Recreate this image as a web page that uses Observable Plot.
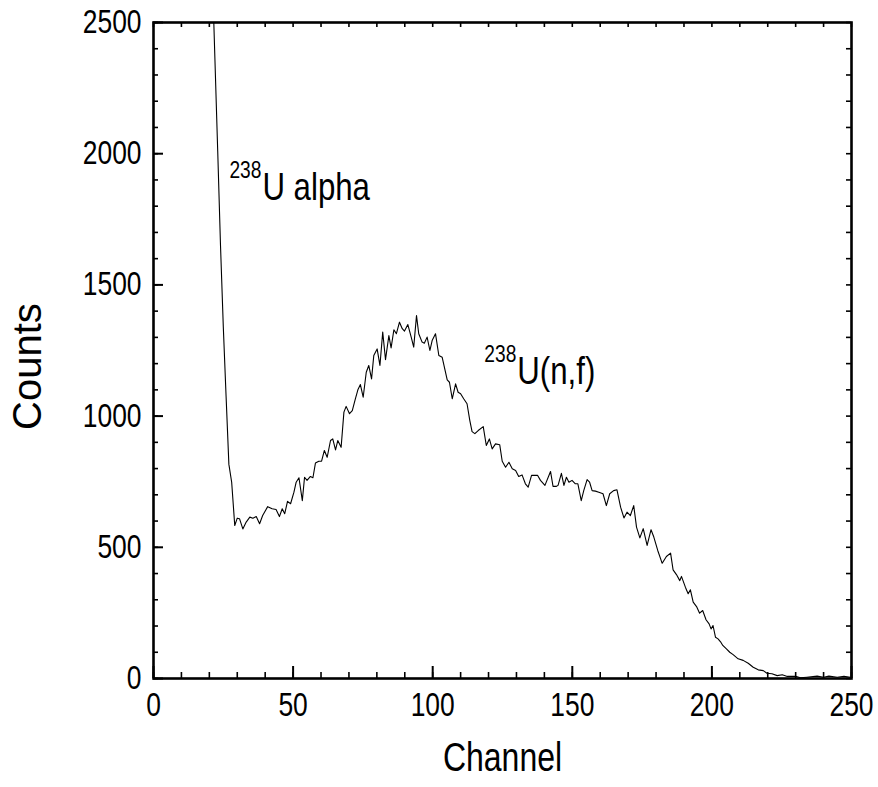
<!DOCTYPE html>
<html><head><meta charset="utf-8">
<script src="https://cdn.jsdelivr.net/npm/d3@7"></script>
<script src="https://cdn.jsdelivr.net/npm/@observablehq/plot@0.6"></script>
<style>body{margin:0;background:#fff}</style>
</head><body><div id="chart"></div>
<script>
const channel = [20,21,22,23,24,25,26,27,28,29.1,
30.0,30.8,32.0,33.2,34.5,35.6,36.8,38.0,39.1,40.9,42.5,43.9,45.1,46.1,47.0,48.0,49.1,50.3,51.1,52.1,53.3,54.1,55.0,56.2,57.1,58.0,59.2,60.2,61.2,62.2,63.4,64.2,65.2,
66.0,67.2,68.2,69.0,70.2,71.2,72.3,73.2,74.1,75.1,76.2,77.1,78.1,78.9,80.1,81.1,82.1,83.1,84.3,85.1,86.1,87.0,88.1,89.1,89.9,91.1,92.3,93.2,94.2,95.0,96.2,97.0,98.0,99.0,99.8,101.0,102.2,
103.4,105.2,106.0,107.0,108.2,109.1,110.0,111.1,112.3,113.3,114.1,115.1,116.3,118.1,119.2,120.3,121.3,122.5,124.0,124.9,126.1,127.3,128.5,129.7,130.8,132.0,133.2,134.2,135.4,136.6,137.6,138.6,140.2,142.2,143.1,144.2,144.9,146.1,147.0,147.9,148.8,149.9,151.1,152.0,153.2,154.1,155.3,156.2,157.1,158.3,159.5,161.0,162.2,163.4,164.8,166.0,167.3,168.5,169.6,170.8,172.0,173.0,174.2,175.4,176.8,178.2,179.2,180.6,182.2,183.7,185.2,186.1,187.3,188.5,189.1,190.5,191.5,192.3,193.3,194.5,195.6,196.7,197.9,199.0,199.7,200.4,201.3,
202.2,203.1,203.9,205.2,206.4,207.6,209.4,211.2,213.0,214.8,216.6,218.4,219.7,221.5,223.4,225.2,227.0,230.0,231.7,234.0,237.7,240.0,241.9,244.9,247.3,249.6];
const counts = [3070,2710,2360,2010,1650,1340,1075,816,748,583,
611,609,570,596,615,611,617,590,621,655,647,644,617,647,628,675,666,710,748,765,678,767,755,770,765,821,828,828,869,843,907,913,871,
907,881,1015,1037,1009,1021,1066,1100,1120,1072,1167,1193,1142,1231,1256,1193,1320,1215,1307,1260,1329,1314,1358,1333,1324,1349,1301,1263,1383,1314,1282,1278,1301,1250,1288,1314,1231,
1224,1138,1129,1066,1123,1091,1085,1066,1047,983,941,933,945,960,888,913,875,894,891,828,805,824,799,793,770,776,742,729,774,774,774,755,736,789,732,732,736,782,736,767,748,755,742,742,678,716,758,748,716,714,710,704,659,704,716,719,653,612,634,621,659,577,536,571,507,567,539,488,439,465,478,414,396,373,389,348,323,338,291,274,249,259,224,208,189,202,157,
151,140,126,113,100,91,75,69,58,43,33,30,20,18,11,14,8,8,3,5,9,5,9,5,8,5];

const xMajorTicks = [0, 50, 100, 150, 200, 250];
const xMinorTicks = [0,10,20,30,40,50,60,70,80,90,100,110,120,130,140,150,160,170,180,190,200,210,220,230,240,250];
const yMajorTicks = [0, 500, 1000, 1500, 2000, 2500];
const yMinorTicks = [0,100,200,300,400,500,600,700,800,900,1000,1100,1200,1300,1400,1500,1600,1700,1800,1900,2000,2100,2200,2300,2400,2500];

const labelMain = ["U alpha", "U(n,f)"];
const labelSup = ["238", "238"];
const labelChannel = [39.0, 130.3];
const labelCounts = [1822, 1123];

const data = channel.map((c, i) => ({channel: c, counts: counts[i]}));
const labels = labelMain.map((t, i) => ({main: t, sup: labelSup[i], x: labelChannel[i], y: labelCounts[i]}));

const W = 878, H = 787, mL = 153, mR = 27, mT = 22, mB = 109;
const pw = W - mL - mR, ph = H - mT - mB;
const FONT = "'Liberation Sans',Arial,sans-serif";
const SQUEEZE = 0.8; // the original's text is horizontally condensed

const chart = Plot.plot({
  width: W, height: H,
  marginLeft: mL, marginRight: mR, marginTop: mT, marginBottom: mB,
  style: {fontFamily: FONT, color: "black", background: "white"},
  x: {domain: [0, 250]},
  y: {domain: [0, 2500]},
  marks: [
    Plot.line(data, {x: "channel", y: "counts", stroke: "black", strokeWidth: 1.1, clip: true}),
    Plot.tickX(xMinorTicks, {x: d => d, insetTop: ph - 6, stroke: "black", strokeWidth: 1.6}),
    Plot.tickX(xMajorTicks, {x: d => d, insetTop: ph - 12, stroke: "black", strokeWidth: 2}),
    Plot.tickX(xMinorTicks, {x: d => d, insetBottom: ph - 5, stroke: "black", strokeWidth: 1.6}),
    Plot.tickY(yMinorTicks, {y: d => d, insetRight: pw - 5, stroke: "black", strokeWidth: 1.6}),
    Plot.tickY(yMajorTicks, {y: d => d, insetRight: pw - 10, stroke: "black", strokeWidth: 2}),
    Plot.tickY(yMinorTicks, {y: d => d, insetLeft: pw - 5, stroke: "black", strokeWidth: 1.6}),
    Plot.frame({stroke: "black", strokeWidth: 2.6}),
    Plot.axisX(xMajorTicks, {tickSize: 0, tickPadding: 14, fontSize: 33, tickFormat: d => String(d), label: null}),
    Plot.axisY(yMajorTicks, {tickSize: 0, tickPadding: 12, fontSize: 33, tickFormat: d => String(d), label: null}),
    Plot.text(["Channel"], {frameAnchor: "bottom", text: d => d, dy: 92, lineAnchor: "bottom", textAnchor: "middle", fontSize: 40}),
    Plot.text(["Counts"], {frameAnchor: "left", text: d => d, dx: -125, dy: 16, rotate: -90, textAnchor: "middle", lineAnchor: "middle", fontSize: 40}),
    Plot.text(labels, {x: "x", y: "y", text: "main", textAnchor: "start", lineAnchor: "bottom", fontSize: 39}),
    Plot.text(labels, {x: "x", y: "y", text: "sup", textAnchor: "end", lineAnchor: "bottom", dy: -22, dx: -1, fontSize: 24})
  ]
});
document.getElementById("chart").appendChild(chart);
chart.querySelectorAll("text").forEach(el => {
  if (el.textContent === "Counts") return;
  const len = el.getComputedTextLength();
  if (len > 0) {
    el.setAttribute("textLength", (len * SQUEEZE).toFixed(1));
    el.setAttribute("lengthAdjust", "spacingAndGlyphs");
  }
});
</script>
</body></html>
